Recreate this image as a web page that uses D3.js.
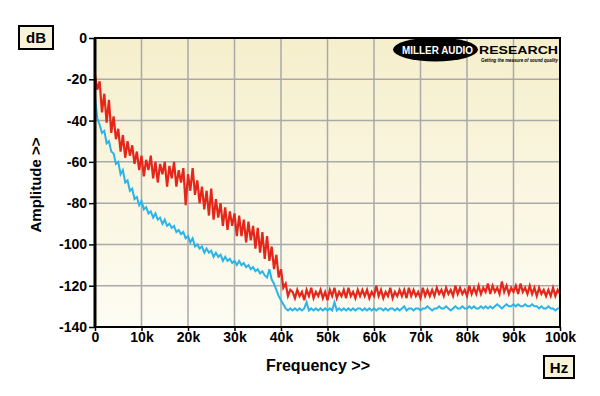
<!DOCTYPE html>
<html lang="en">
<head>
	<meta charset="UTF-8"/>
	<title>Amplitude vs Frequency</title>
	<script src="https://d3js.org/d3.v7.min.js"></script>
	<style>
		body { margin: 0; background: #ffffff; }
		text { font-family: "Liberation Sans", Arial, sans-serif; font-weight: bold; }
	</style>
</head>
<body>
	<script>

		var w = 600;
		var h = 396;

		// frequency step between samples (Hz)
		var step = 500;

		// x tick labels
		var xTicks = [0, 10000, 20000, 30000, 40000, 50000, 60000, 70000, 80000, 90000, 100000];
		var xTickLabels = ["0", "10k", "20k", "30k", "40k", "50k", "60k", "70k", "80k", "90k", "100k"];
		var yTicks = [0, -20, -40, -60, -80, -100, -120, -140];

		// red trace, dB, one value every 500 Hz (rows of 5 kHz)
		var redValues = [
			-18,-25,-21,-36,-27,-41,-30,-46,-38,-49,
			-44,-55,-47,-58,-50,-57,-52,-61,-55,-64,
			-57,-67,-59,-64,-57,-68,-60,-70,-61,-66,
			-60,-72,-62,-68,-60,-72,-64,-70,-63,-81,
			-66,-74,-63,-76,-69,-80,-72,-83,-74,-86,
			-73,-88,-78,-87,-80,-91,-82,-93,-84,-91,
			-85,-96,-86,-96,-88,-99,-89,-98,-91,-102,
			-92,-104,-94,-107,-96,-108,-101,-112,-105,-116,
			-112,-121,-119,-125,-122,-123,-126,-122,-125,-123,
			-127,-122,-125,-121,-126,-123,-125,-122,-126,-123,
			-127,-122,-125,-121,-126,-123,-125,-122,-126,-121,
			-125,-123,-126,-122,-125,-122,-125,-122,-126,-123,
			-125,-120,-125,-122,-126,-123,-125,-121,-126,-123,
			-125,-122,-125,-122,-126,-121,-125,-122,-125,-123,
			-126,-121,-125,-122,-125,-122,-125,-121,-124,-122,
			-125,-121,-124,-122,-125,-120,-124,-121,-124,-122,
			-125,-120,-124,-121,-124,-120,-124,-121,-123,-119,
			-124,-120,-123,-121,-124,-118,-123,-120,-124,-121,
			-123,-120,-124,-119,-123,-121,-124,-120,-124,-121,
			-125,-121,-124,-122,-125,-122,-125,-121,-125,-122,
			-124
		];

		// cyan trace, dB, same sampling
		var cyanValues = [
			-29,-39,-42,-46,-45,-51,-50,-55,-56,-61,
			-60,-66,-64,-70,-69,-74,-73,-78,-77,-81,
			-79,-83,-82,-85,-84,-87,-85,-88,-87,-90,
			-88,-91,-90,-92,-91,-94,-93,-95,-94,-97,
			-96,-99,-97,-101,-100,-102,-101,-104,-102,-104,
			-103,-106,-104,-106,-105,-108,-106,-108,-107,-109,
			-108,-110,-108,-110,-109,-111,-110,-112,-111,-113,
			-112,-114,-113,-115,-116,-112,-117,-119,-122,-125,
			-127,-129,-131,-132,-131,-132,-131,-132,-131,-132,
			-131,-128,-132,-131,-132,-131,-132,-131,-132,-131,
			-132,-131,-132,-128,-132,-131,-132,-131,-132,-131,
			-132,-131,-132,-131,-131,-132,-131,-132,-131,-132,
			-131,-132,-131,-131,-132,-131,-132,-131,-131,-132,
			-131,-132,-131,-130,-132,-131,-131,-132,-131,-131,
			-132,-131,-131,-130,-131,-132,-131,-131,-130,-131,
			-131,-130,-131,-132,-131,-130,-131,-131,-130,-131,
			-131,-130,-131,-130,-131,-131,-130,-131,-130,-131,
			-130,-131,-130,-129,-130,-131,-130,-129,-130,-130,
			-129,-130,-129,-130,-130,-129,-130,-130,-129,-130,
			-130,-131,-130,-131,-131,-130,-131,-131,-132,-131,
			-131
		];

		//Define scales
		var xScale = d3.scaleLinear()
						.domain([0, 100000])
						.range([95, 560]);

		var yScale = d3.scaleLinear()
						.domain([-140, 0])
						.range([327, 38]);

		var svg = d3.select("body")
					.append("svg")
					.attr("width", w)
					.attr("height", h);

		// plot background gradient
		var grad = svg.append("defs")
					.append("linearGradient")
					.attr("id", "bg")
					.attr("x1", 0).attr("y1", 0)
					.attr("x2", 0).attr("y2", 1);
		grad.append("stop").attr("offset", "0%").attr("stop-color", "#f6efcc");
		grad.append("stop").attr("offset", "100%").attr("stop-color", "#fdfcf3");

		svg.append("rect")
			.attr("x", xScale(0))
			.attr("y", yScale(0))
			.attr("width", xScale(100000) - xScale(0))
			.attr("height", yScale(-140) - yScale(0))
			.attr("fill", "url(#bg)");

		//grid lines
		svg.selectAll(".vgrid")
			.data(xTicks.slice(1, -1))
			.enter()
			.append("line")
			.attr("x1", function(d){ return xScale(d); })
			.attr("x2", function(d){ return xScale(d); })
			.attr("y1", yScale(0))
			.attr("y2", yScale(-140))
			.attr("stroke", "#a9a9a9")
			.attr("stroke-width", 1.5);

		svg.selectAll(".hgrid")
			.data(yTicks.slice(1, -1))
			.enter()
			.append("line")
			.attr("x1", xScale(0))
			.attr("x2", xScale(100000))
			.attr("y1", function(d){ return yScale(d); })
			.attr("y2", function(d){ return yScale(d); })
			.attr("stroke", "#a9a9a9")
			.attr("stroke-width", 1.5);

		//logo
		var logo = svg.append("g");
		logo.append("ellipse")
			.attr("cx", 435.5).attr("cy", 49.5)
			.attr("rx", 42.5).attr("ry", 12)
			.attr("fill", "#000");
		logo.append("text")
			.attr("x", 402).attr("y", 54)
			.attr("font-size", 10.5)
			.attr("font-weight", 900)
			.attr("textLength", 71)
			.attr("lengthAdjust", "spacingAndGlyphs")
			.attr("fill", "#fff")
			.text("MILLER AUDIO");
		logo.append("text")
			.attr("x", 479).attr("y", 54)
			.attr("font-size", 10.5)
			.attr("font-weight", 900)
			.attr("textLength", 79)
			.attr("lengthAdjust", "spacingAndGlyphs")
			.attr("fill", "#000")
			.text("RESEARCH");
		logo.append("text")
			.attr("x", 481).attr("y", 62)
			.attr("font-size", 5.5)
			.attr("font-style", "italic")
			.attr("textLength", 77)
			.attr("lengthAdjust", "spacingAndGlyphs")
			.attr("fill", "#000")
			.text("Getting the measure of sound quality");

		//traces
		var line = d3.line()
					.x(function(d, i){ return xScale(i * step); })
					.y(function(d){ return yScale(d); });

		svg.append("path")
			.datum(cyanValues)
			.attr("d", line)
			.attr("fill", "none")
			.attr("stroke", "#2ab4ea")
			.attr("stroke-width", 2);

		svg.append("path")
			.datum(redValues)
			.attr("d", line)
			.attr("fill", "none")
			.attr("stroke", "#e4261b")
			.attr("stroke-width", 2.2);

		//frame
		svg.append("rect")
			.attr("x", xScale(0))
			.attr("y", yScale(0))
			.attr("width", xScale(100000) - xScale(0))
			.attr("height", yScale(-140) - yScale(0))
			.attr("fill", "none")
			.attr("stroke", "#000")
			.attr("stroke-width", 2);
		svg.append("line")
			.attr("x1", xScale(0)).attr("x2", xScale(0))
			.attr("y1", yScale(0)).attr("y2", yScale(-140))
			.attr("stroke", "#000")
			.attr("stroke-width", 3);

		//axes
		var xAxis = d3.axisBottom(xScale)
					.tickValues(xTicks)
					.tickSize(4)
					.tickPadding(1)
					.tickFormat(function(d, i){ return xTickLabels[i]; });

		var yAxis = d3.axisLeft(yScale)
					.tickValues(yTicks)
					.tickSize(6)
					.tickPadding(2)
					.tickFormat(function(d){ return d; });

		var gx = svg.append("g")
			.attr("transform", "translate(0," + yScale(-140) + ")")
			.call(xAxis);

		var gy = svg.append("g")
			.attr("transform", "translate(" + xScale(0) + ",0)")
			.call(yAxis);

		[gx, gy].forEach(function(g){
			g.select(".domain").remove();
			g.selectAll("line").attr("stroke", "#000").attr("stroke-width", 1.5);
			g.selectAll("text")
				.attr("fill", "#000")
				.attr("font-size", 14)
				.attr("font-family", "Liberation Sans, Arial, sans-serif")
				.attr("font-weight", "bold");
		});

		//axis titles
		svg.append("text")
			.attr("text-anchor", "middle")
			.attr("x", 318)
			.attr("y", 371)
			.attr("font-size", 16)
			.text("Frequency >>");

		svg.append("text")
			.attr("text-anchor", "middle")
			.attr("transform", "rotate(-90)")
			.attr("x", -185)
			.attr("y", 41)
			.attr("font-size", 15)
			.text("Amplitude >>");

		//unit boxes
		svg.append("rect")
			.attr("x", 19).attr("y", 26)
			.attr("width", 34).attr("height", 23)
			.attr("fill", "#f7f3da")
			.attr("stroke", "#000")
			.attr("stroke-width", 2);
		svg.append("text")
			.attr("text-anchor", "middle")
			.attr("x", 36).attr("y", 43)
			.attr("font-size", 15)
			.text("dB");

		svg.append("rect")
			.attr("x", 544).attr("y", 356)
			.attr("width", 30).attr("height", 22)
			.attr("fill", "#f7f3da")
			.attr("stroke", "#000")
			.attr("stroke-width", 2);
		svg.append("text")
			.attr("text-anchor", "middle")
			.attr("x", 559).attr("y", 373)
			.attr("font-size", 15)
			.text("Hz");

	</script>
</body>
</html>
